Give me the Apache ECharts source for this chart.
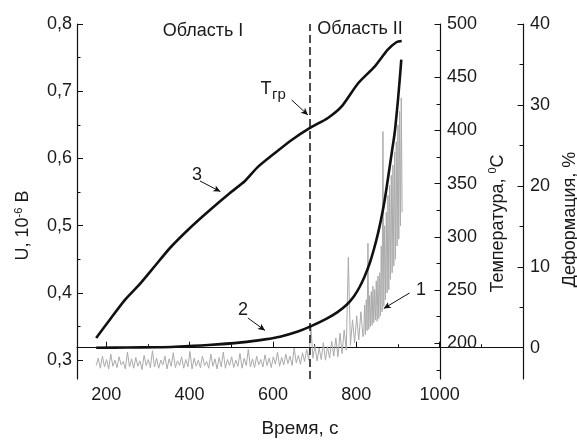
<!DOCTYPE html>
<html>
<head>
<meta charset="utf-8">
<script src="https://cdn.jsdelivr.net/npm/echarts@6/dist/echarts.min.js"></script>
<style>
html,body{margin:0;padding:0;background:#fff;}
#chart{width:577px;height:441px;}
</style>
</head>
<body>
<div id="chart"></div>
<script>
// ---- Data ----
const timeLabels = [200, 400, 600, 800, 1000];
const timeMinor = [300, 500, 700, 900, 1100];
const uTicks = [0.3, 0.4, 0.5, 0.6, 0.7, 0.8];
const uMinor = [0.35, 0.45, 0.55, 0.65, 0.75];
const tempTicks = [200, 250, 300, 350, 400, 450, 500];
const tempMinor = [175, 225, 275, 325, 375, 425, 475];
const defTicks = [0, 10, 20, 30, 40];
const defMinor = [5, 15, 25, 35];

// Curve 1: signal U (10^-6 V), sampled every 5 s from 176 s to 816 s
const signalStart = 176;
const signalStep = 5;
const signalU = [
  0.292,0.303,0.288,0.306,0.290,0.301,0.287,0.309,0.291,0.300,
  0.289,0.305,0.293,0.298,0.287,0.312,0.290,0.302,0.288,0.304,
  0.291,0.299,0.286,0.307,0.292,0.301,0.289,0.314,0.290,0.303,
  0.288,0.300,0.293,0.306,0.287,0.302,0.291,0.311,0.289,0.299,
  0.292,0.305,0.288,0.301,0.290,0.313,0.287,0.303,0.291,0.300,
  0.289,0.306,0.292,0.298,0.288,0.309,0.291,0.302,0.287,0.304,
  0.290,0.312,0.288,0.301,0.292,0.305,0.289,0.300,0.291,0.310,
  0.288,0.303,0.292,0.316,0.290,0.302,0.289,0.306,0.293,0.301,
  0.290,0.308,0.292,0.303,0.289,0.305,0.294,0.312,0.291,0.304,
  0.293,0.309,0.295,0.306,0.292,0.318,0.296,0.307,0.294,0.311,
  0.298,0.316,0.300,0.352,0.303,0.322,0.299,0.318,0.301,0.326,
  0.300,0.320,0.303,0.328,0.306,0.333,0.305,0.340,0.310,0.345,
  0.315,0.453,0.322,0.360,0.326,0.366,0.330,0.372,0.335
];
// Curve 1 continued: sampled every 2 s from 818 s to 910 s
const signalEndStart = 818;
const signalEndStep = 2;
const signalEndU = [
  0.340,0.382,0.338,0.390,0.344,0.474,0.346,0.396,0.350,0.402,
  0.352,0.410,0.356,0.405,0.360,0.418,0.358,0.425,0.362,0.430,
  0.366,0.470,0.372,0.640,0.380,0.500,0.390,0.520,0.400,0.545,
  0.405,0.560,0.420,0.575,0.430,0.590,0.440,0.610,0.450,0.625,
  0.470,0.650,0.480,0.670,0.500,0.690,0.520
];

// Curve 2: deformation, % [time, value]
const deformation = [
  [176,0],[250,0.02],[320,0.06],[365,0.12],[445,0.33],[525,0.66],[581,1.03],
  [617,1.36],[660,2.0],[689,2.6],[729,3.6],[755,4.4],[777,5.3],[795,6.4],
  [808,7.5],[820,8.8],[832,10.4],[842,12.1],[852,14.1],[860,16.0],[868,18.2],
  [874,20.2],[880,22.3],[886,24.4],[892,26.5],[897,29.0],[900,30.6],[904,33.0],[908,35.6]
];

// Curve 3: temperature, °C [time, value]
const temperature = [
  [176,205.0],[210,222.8],[245,240.7],[281,255.7],[317,272.6],[353,289.5],
  [401,308.3],[449,325.2],[497,341.2],[533,352.5],[564,365.7],[605,378.8],
  [645,391.0],[689,402.3],[732,411.7],[765,422.5],[804,444.1],[844,459.9],
  [875,475.6],[897,483.1],[909,484.0]
];

const boundaryTime = 689;

// annotation arrows (data coordinates)
const arrow3 = [[425, 352.5], [474, 342.5]];
const arrowTgr = [[645, 428.6], [684, 414.5]];
const arrow2 = [[540, 3.67], [581, 2.13]];
const arrow1 = [[928, 0.40], [866, 0.377]];

// ---- Chart ----
const FONT = "'Liberation Sans', Arial, sans-serif";
const TXT = '#1a1a1a';
const signalData = signalU.map((v, i) => [signalStart + i * signalStep, v])
  .concat(signalEndU.map((v, i) => [signalEndStart + i * signalEndStep, v]));

const chart = echarts.init(document.getElementById('chart'), null, {renderer: 'canvas'});

const axisLine = {show: true, lineStyle: {color: '#111', width: 1.2}};
function minorAxis(base, ticks) {
  return Object.assign({}, base, {
    name: '',
    axisLine: {show: false},
    axisLabel: {show: false},
    splitLine: {show: false},
    axisTick: {show: true, inside: true, length: 3.5, customValues: ticks, lineStyle: {color: '#111', width: 1}}
  });
}

const xMain = {
  type: 'value', gridIndex: 0, min: 130, max: 1200, position: 'bottom',
  name: 'Время, с', nameLocation: 'middle', nameGap: 40,
  nameTextStyle: {fontFamily: FONT, fontSize: 19, color: TXT},
  axisLine: axisLine,
  axisTick: {show: true, inside: true, length: 6, customValues: timeLabels.concat([1200]), lineStyle: {color: '#111', width: 1}},
  axisLabel: {show: true, customValues: timeLabels, fontFamily: FONT, fontSize: 18, color: TXT, margin: 7,
    formatter: v => String(v)},
  splitLine: {show: false}
};
const yU = {
  type: 'value', min: 0.272, max: 0.8, position: 'left',
  name: '{a|U, 10}{s|-6}{a| В}', nameLocation: 'middle', nameGap: 44,
  nameTextStyle: {fontFamily: FONT, fontSize: 18, color: TXT, padding: [0, 48, 0, 0],
    rich: {a: {fontFamily: FONT, fontSize: 18, color: TXT}, s: {fontFamily: FONT, fontSize: 11, color: TXT, padding: [0, 0, 9, 0]}}},
  axisLine: axisLine,
  axisTick: {show: true, inside: true, length: 6, customValues: uTicks, lineStyle: {color: '#111', width: 1}},
  axisLabel: {show: true, customValues: uTicks, fontFamily: FONT, fontSize: 18, color: TXT, margin: 5,
    formatter: v => v.toFixed(1).replace('.', ',')},
  splitLine: {show: false}
};
const yT = {
  type: 'value', min: 166.4, max: 500, position: 'right', offset: -83,
  name: '{a|Температура, }{s|0}{a|C}', nameLocation: 'middle', nameGap: 44,
  nameTextStyle: {fontFamily: FONT, fontSize: 18, color: TXT, padding: [0, 44, 0, 0],
    rich: {a: {fontFamily: FONT, fontSize: 18, color: TXT}, s: {fontFamily: FONT, fontSize: 11, color: TXT, padding: [0, 0, 9, 0]}}},
  axisLine: axisLine,
  axisTick: {show: true, inside: true, length: 5.5, customValues: tempTicks, lineStyle: {color: '#111', width: 1}},
  axisLabel: {show: true, customValues: tempTicks, fontFamily: FONT, fontSize: 18, color: TXT, margin: 7},
  splitLine: {show: false}
};
const yD = {
  type: 'value', min: -3.87, max: 40, position: 'right', offset: 0,
  name: 'Деформация, %', nameLocation: 'middle', nameGap: 32,
  nameTextStyle: {fontFamily: FONT, fontSize: 18, color: TXT, padding: [0, 36, 0, 0]},
  axisLine: axisLine,
  axisTick: {show: true, inside: true, length: 5.5, customValues: defTicks, lineStyle: {color: '#111', width: 1}},
  axisLabel: {show: true, customValues: defTicks, fontFamily: FONT, fontSize: 18, color: TXT, margin: 7},
  splitLine: {show: false}
};

function arrowLine(seg) {
  return [{coord: seg[0], symbol: 'none'}, {coord: seg[1], symbol: 'arrow', symbolSize: [5, 7]}];
}
const arrowStyle = {color: '#111', width: 1, type: 'solid'};

const option = {
  backgroundColor: '#fff',
  animation: false,
  grid: {left: 77, right: 54, top: 24, bottom: 62, containLabel: false, outerBoundsMode: 'none'},
  xAxis: [xMain, minorAxis(xMain, timeMinor)],
  yAxis: [yU, yT, yD, minorAxis(yU, uMinor), minorAxis(yT, tempMinor), minorAxis(yD, defMinor)],
  series: [
    {
      name: '1', type: 'line', xAxisIndex: 0, yAxisIndex: 0, data: signalData,
      showSymbol: false, lineStyle: {color: '#ababab', width: 1}, z: 2,
      markLine: {
        silent: true, symbol: ['none', 'none'], label: {show: false},
        lineStyle: {color: '#111', width: 1.5, type: [8, 4]},
        data: [{xAxis: boundaryTime}]
      }
    },
    {
      name: '2', type: 'line', xAxisIndex: 0, yAxisIndex: 2, data: deformation,
      showSymbol: false, smooth: 0.3, lineStyle: {color: '#111', width: 2.6}, z: 3,
      markLine: {silent: true, label: {show: false}, lineStyle: arrowStyle, data: [arrowLine(arrow2)]}
    },
    {
      name: '3', type: 'line', xAxisIndex: 0, yAxisIndex: 1, data: temperature,
      showSymbol: false, smooth: 0.2, lineStyle: {color: '#111', width: 2.6}, z: 3,
      markLine: {silent: true, label: {show: false}, lineStyle: arrowStyle, data: [arrowLine(arrow3), arrowLine(arrowTgr)]}
    },
    {
      name: 'arrow1', type: 'line', xAxisIndex: 0, yAxisIndex: 0, data: [],
      markLine: {silent: true, label: {show: false}, lineStyle: arrowStyle, data: [arrowLine(arrow1)]}
    }
  ],
  graphic: [
    {type: 'text', x: 203, y: 31, style: {text: 'Область I', font: '18px ' + FONT, fill: TXT, align: 'center', verticalAlign: 'middle'}},
    {type: 'text', x: 360, y: 29, style: {text: 'Область II', font: '18px ' + FONT, fill: TXT, align: 'center', verticalAlign: 'middle'}},
    {type: 'text', x: 266, y: 89, style: {text: 'T', font: '18px ' + FONT, fill: TXT, align: 'center', verticalAlign: 'middle'}},
    {type: 'text', x: 279, y: 95, style: {text: 'гр', font: '15px ' + FONT, fill: TXT, align: 'center', verticalAlign: 'middle'}},
    {type: 'text', x: 197, y: 175, style: {text: '3', font: '18px ' + FONT, fill: TXT, align: 'center', verticalAlign: 'middle'}},
    {type: 'text', x: 243, y: 310, style: {text: '2', font: '18px ' + FONT, fill: TXT, align: 'center', verticalAlign: 'middle'}},
    {type: 'text', x: 421, y: 290, style: {text: '1', font: '18px ' + FONT, fill: TXT, align: 'center', verticalAlign: 'middle'}}
  ]
};
chart.setOption(option);
</script>
</body>
</html>
